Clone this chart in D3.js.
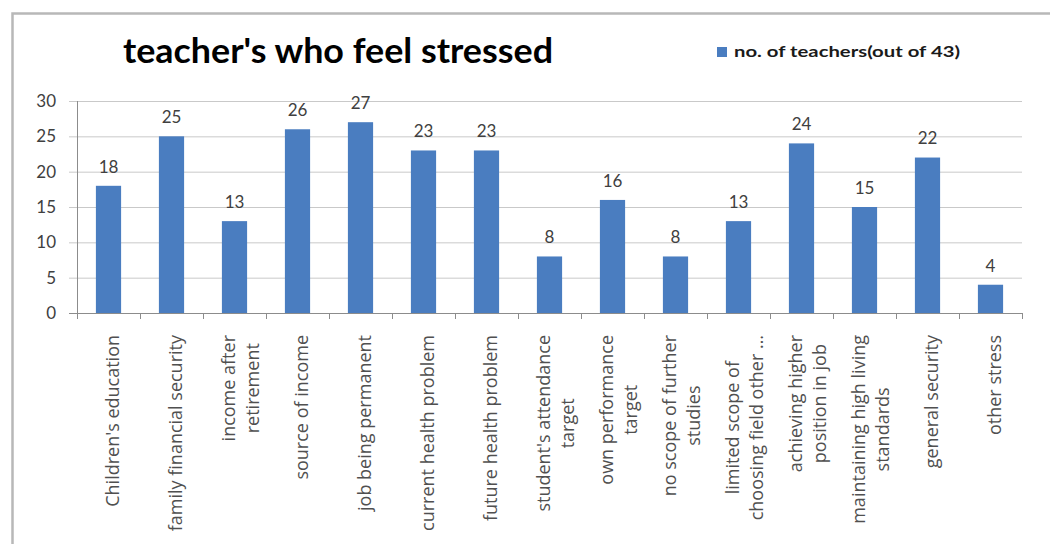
<!DOCTYPE html>
<html><head><meta charset="utf-8">
<script src="https://cdn.jsdelivr.net/npm/d3@7"></script>
<style>body{margin:0;background:#fff}svg{display:block}</style>
</head><body>
<svg id="c" width="1050" height="544"></svg>
<script>
const categories = [
  "Children's education", "family financial security", "income after\nretirement",
  "source of income", "job being permanent", "current health problem",
  "future health problem", "student's attendance\ntarget", "own performance\ntarget",
  "no scope of further\nstudies", "limited scope of\nchoosing field other …",
  "achieving higher\nposition in job", "maintaining high living\nstandards",
  "general security", "other stress"
];
const values = [18, 25, 13, 26, 27, 23, 23, 8, 16, 8, 13, 24, 15, 22, 4];
const yTicks = [0, 5, 10, 15, 20, 25, 30];
const seriesName = "no. of teachers(out of 43)";
const titleText = "teacher's who feel stressed";

const svg = d3.select("#c");
const font = "Lato, 'Open Sans', sans-serif";
const labFont = "'Open Sans', Lato, sans-serif";
const txtCol = "#404040";
const barCol = "#4a7dc0";

svg.append("rect").attr("width",1050).attr("height",544).attr("fill","#fff");
// outer frame
svg.append("rect").attr("x",12.5).attr("y",13.5).attr("width",1060).attr("height",560)
  .attr("fill","none").attr("stroke","#b8b8b8").attr("stroke-width",2.5);

const x = d3.scaleBand().domain(d3.range(categories.length)).range([77,1022]).paddingInner(0.6).paddingOuter(0.3);
const xb = d3.scaleBand().domain(d3.range(categories.length)).range([77,1022]);
const y = d3.scaleLinear().domain([0,30]).range([313,101]);

// gridlines
svg.append("g").selectAll("line").data(yTicks).join("line")
  .attr("x1",69).attr("x2",1022).attr("y1",d=>y(d)+0.5).attr("y2",d=>y(d)+0.5)
  .attr("stroke",d=>d===0?"#8c8c8c":"#c9c9c9").attr("stroke-width",1);
// y axis
svg.append("line").attr("x1",77.5).attr("x2",77.5).attr("y1",y(30)).attr("y2",y(0)+1).attr("stroke","#8c8c8c");
svg.append("g").selectAll("text").data(yTicks).join("text")
  .attr("x",56).attr("y",d=>y(d)).attr("dy","0.35em").attr("text-anchor","end")
  .attr("font-family",font).attr("font-size",17).attr("fill",txtCol).text(d=>d);
// x ticks at band boundaries
const bounds = d3.range(categories.length+1).map(i=> i<categories.length ? xb(i) : xb(i-1)+xb.bandwidth());
svg.append("g").selectAll("line").data(bounds).join("line")
  .attr("x1",d=>Math.round(d)+0.5).attr("x2",d=>Math.round(d)+0.5).attr("y1",y(0)).attr("y2",y(0)+6)
  .attr("stroke","#8c8c8c");

// bars
svg.append("g").selectAll("rect").data(values).join("rect")
  .attr("x",(d,i)=>x(i)).attr("width",x.bandwidth()).attr("y",d=>y(d)).attr("height",d=>y(0)-y(d))
  .attr("fill",barCol);
// data labels
svg.append("g").selectAll("text").data(values).join("text")
  .attr("x",(d,i)=>x(i)+x.bandwidth()/2).attr("y",d=>y(d)-19).attr("dy","0.35em")
  .attr("text-anchor","middle").attr("font-family",font).attr("font-size",17).attr("fill",txtCol).text(d=>d);

// category labels
const lab = svg.append("g");
categories.forEach((c,i)=>{
  const lines = c.split("\n");
  const cx = xb(i)+xb.bandwidth()/2 + (lines.length>1?5:3);
  const g = lab.append("g");
  const t = g.append("text").attr("font-family",labFont).attr("font-size",18).attr("fill","#505050")
    .attr("text-anchor","middle").attr("dominant-baseline","central");
  lines.forEach((l,k)=>{
    t.append("tspan").attr("x",0).attr("y",(k-(lines.length-1)/2)*24).text(l);
  });
  let w = 0;
  t.selectAll("tspan").each(function(){w=Math.max(w,this.getComputedTextLength());});
  g.attr("transform",`translate(${cx},${335+w/2}) rotate(-90)`);
});

// title
svg.append("text").attr("x",123).attr("y",63).attr("font-family",font).attr("font-weight","bold")
  .attr("font-size",34).attr("fill","#000").attr("textLength",430).attr("lengthAdjust","spacingAndGlyphs").text(titleText);
// legend
svg.append("rect").attr("x",717).attr("y",47).attr("width",10).attr("height",10).attr("fill",barCol);
svg.append("text").attr("x",734).attr("y",57).attr("font-family",font).attr("font-weight","bold")
  .attr("font-size",16).attr("fill","#1a1a1a").attr("textLength",226).attr("lengthAdjust","spacingAndGlyphs").text(seriesName);
</script>
</body></html>
